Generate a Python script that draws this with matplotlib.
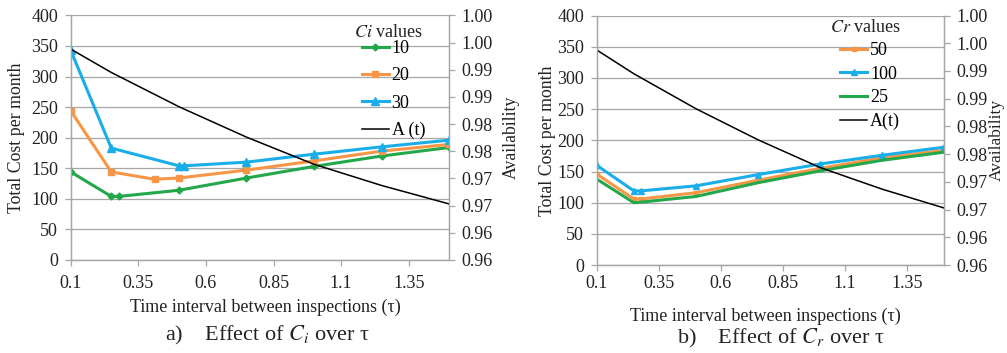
import matplotlib.pyplot as plt
import numpy as np

plt.rcParams['font.family'] = ['Liberation Serif', 'DejaVu Serif']
plt.rcParams['mathtext.fontset'] = 'stix'

# ---- data ----
tau_all = [0.1, 0.25, 0.28, 0.5, 0.75, 1.0, 1.25, 1.5]
tau_avail = [0.1, 0.25, 0.5, 0.75, 1.0, 1.25, 1.5]
avail = [0.9963, 0.9920, 0.9857, 0.9801, 0.9751, 0.9712, 0.9678]

# a) Ci
tau_ci10 = [0.1, 0.25, 0.28, 0.5, 0.75, 1.0, 1.25, 1.5]
ci10 = [144, 104, 104, 114, 134, 153, 170, 184]
tau_ci20 = [0.1, 0.25, 0.41, 0.5, 0.75, 1.0, 1.25, 1.5]
ci20 = [244, 144, 132, 134, 147, 162, 178, 189]
tau_ci30 = [0.1, 0.25, 0.5, 0.52, 0.75, 1.0, 1.25, 1.5]
ci30 = [343, 183, 154, 154, 160, 173, 185, 196]

# b) Cr
cr50 = [146, 106, 106, 116, 136, 155, 172, 184]
cr100 = [160, 119, 119, 127, 145, 162, 176, 189]
cr25 = [138, 100, 101, 110, 132, 151, 168, 181]

xticks = [0.1, 0.35, 0.6, 0.85, 1.1, 1.35]
xtick_labels = ['0.1', '0.35', '0.6', '0.85', '1.1', '1.35']
cost_ticks = np.arange(0, 401, 50)
avail_ticks = np.arange(0.9575, 1.0026, 0.005)

green = '#22a84a'
orange = '#f79646'
blue = '#1aaee8'
grid_col = '#a6a6a6'
txt_col = '#222222'


def style(ax, ax2, xpad):
    ax.set_xlim(0.1, 1.5)
    ax.set_ylim(0, 400)
    ax.set_xticks(xticks)
    ax.set_xticklabels(xtick_labels)
    ax.set_yticks(cost_ticks)
    ax.yaxis.grid(True, color=grid_col, lw=0.9)
    ax.set_axisbelow(True)
    ax2.set_ylim(0.9575, 1.0025)
    ax2.set_yticks(avail_ticks)
    ax2.set_yticklabels(['%.2f' % v for v in avail_ticks])
    for a in (ax, ax2):
        a.spines['top'].set_visible(False)
        for s in ('left', 'right', 'bottom'):
            a.spines[s].set_color(grid_col)
            a.spines[s].set_linewidth(0.9)
        a.tick_params(colors=grid_col, labelcolor=txt_col, labelsize=13,
                      length=4, width=0.9)
    ax.tick_params(axis='x', pad=xpad)
    ax.tick_params(axis='y', pad=5)
    ax2.tick_params(axis='y', pad=5)


fig = plt.figure(figsize=(10.07, 3.53), dpi=100)

# ---------- panel a ----------
ax = fig.add_axes([0.0702, 0.2635, 0.376, 0.693])
ax2 = ax.twinx()
style(ax, ax2, 7)
ax.plot(tau_ci10, ci10, color=green, lw=2.2, marker='D', ms=3.5, label='10', zorder=3)
ax.plot(tau_ci20, ci20, color=orange, lw=2.2, marker='s', ms=4, label='20', zorder=3)
ax.plot(tau_ci30, ci30, color=blue, lw=2.2, marker='^', ms=5.5, label='30', zorder=3)
la, = ax2.plot(tau_avail, avail, color='black', lw=1.1, label='A (t)')
h, l = ax.get_legend_handles_labels()
ax.legend(h + [la], l + ['A (t)'], loc='upper left',
          bbox_to_anchor=(0.745, 0.936), frameon=False, fontsize=13,
          handlelength=1.5, handletextpad=0.15,
          labelspacing=0.57, borderpad=0)
ax.text(0.838, 0.93, '$Ci$ values', transform=ax.transAxes, ha='center',
        va='center', fontsize=13, color=txt_col)
ax.set_ylabel('Total Cost per month', fontsize=12.8, color=txt_col)
ax.yaxis.set_label_coords(-0.121, 0.5)
ax2.set_ylabel('Availability', fontsize=12.8, color=txt_col)
ax2.yaxis.set_label_coords(1.142, 0.5)
ax.set_xlabel('Time interval between inspections (τ)', fontsize=13, color=txt_col)
ax.xaxis.set_label_coords(0.513, -0.158)

# ---------- panel b ----------
bx = fig.add_axes([0.5925, 0.249, 0.345, 0.707])
bx2 = bx.twinx()
style(bx, bx2, 3)
bx.plot(tau_all, cr50, color=orange, lw=2.2, marker='s', ms=3.5, label='50', zorder=3)
bx.plot(tau_all, cr100, color=blue, lw=2.2, marker='^', ms=5, label='100', zorder=3)
bx.plot(tau_all, cr25, color=green, lw=2.2, label='25', zorder=3)
lb, = bx2.plot(tau_avail, avail, color='black', lw=1.1, label='A(t)')
h, l = bx.get_legend_handles_labels()
bx.legend(h + [lb], l + ['A(t)'], loc='upper left',
          bbox_to_anchor=(0.675, 0.929), frameon=False, fontsize=13,
          handlelength=1.5, handletextpad=0.15,
          labelspacing=0.36, borderpad=0)
bx.text(0.7725, 0.953, '$Cr$ values', transform=bx.transAxes, ha='center',
        va='center', fontsize=13, color=txt_col)
bx.set_ylabel('Total Cost per month', fontsize=12.8, color=txt_col)
bx.yaxis.set_label_coords(-0.117, 0.5)
bx2.set_ylabel('Availability', fontsize=12.5, color=txt_col)
bx2.yaxis.set_label_coords(1.128, 0.5)
bx.set_xlabel('Time interval between inspections (τ)', fontsize=13, color=txt_col)
bx.xaxis.set_label_coords(0.485, -0.17)

# captions
fig.text(0.266, 0.05, 'a)    Effect of $C_i$ over τ', ha='center', va='center',
         fontsize=16, color=txt_col)
fig.text(0.775, 0.04, 'b)    Effect of $C_r$ over τ', ha='center', va='center',
         fontsize=16, color=txt_col)

fig.savefig('out.png', dpi=100)
